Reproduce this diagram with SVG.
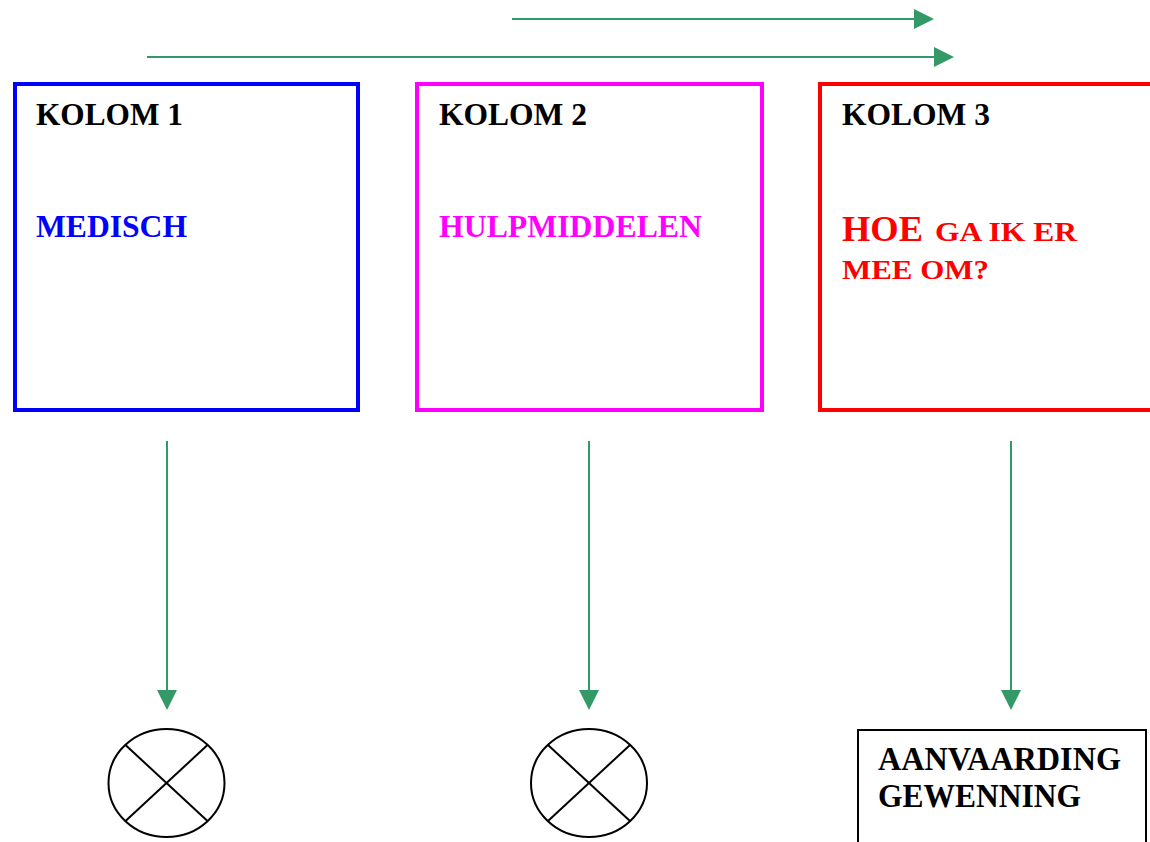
<svg xmlns="http://www.w3.org/2000/svg" width="1150" height="842" viewBox="0 0 1150 842">
<style>
.t{font-family:"Liberation Serif","Times New Roman",serif;font-weight:bold}
.k{font-size:32px;fill:#000}
.c{stroke:#339966;stroke-width:2;fill:none}
.box{fill:#fff;stroke-width:4}
.sym{fill:#fff;stroke:#000;stroke-width:2}
</style>
<defs>
<marker id="ah" markerUnits="userSpaceOnUse" markerWidth="20" markerHeight="20" refX="0" refY="10" orient="auto">
<path d="M0,0 L20,10 L0,20 z" fill="#339966"/>
</marker>
</defs>
<g id="connectors">
<line class="c" x1="512" y1="19" x2="914" y2="19" marker-end="url(#ah)"/>
<line class="c" x1="147" y1="57" x2="934" y2="57" marker-end="url(#ah)"/>
<line class="c" x1="167" y1="441" x2="167" y2="690" marker-end="url(#ah)"/>
<line class="c" x1="589" y1="441" x2="589" y2="690" marker-end="url(#ah)"/>
<line class="c" x1="1011" y1="441" x2="1011" y2="690" marker-end="url(#ah)"/>
</g>
<g id="kolom1">
<rect class="box" x="15" y="84" width="343" height="326" stroke="#0000ff"/>
<text class="t k" x="36" y="125" textLength="147" lengthAdjust="spacingAndGlyphs">KOLOM 1</text>
<text class="t" x="36" y="237" font-size="31" fill="#0000ff" textLength="151" lengthAdjust="spacingAndGlyphs">MEDISCH</text>
</g>
<g id="kolom2">
<rect class="box" x="417" y="84" width="345" height="326" stroke="#ff00ff"/>
<text class="t k" x="439" y="125" textLength="148" lengthAdjust="spacingAndGlyphs">KOLOM 2</text>
<text class="t" x="439" y="237" font-size="31" fill="#ff00ff" textLength="263" lengthAdjust="spacingAndGlyphs">HULPMIDDELEN</text>
</g>
<g id="kolom3">
<rect class="box" x="820" y="84" width="340" height="326" stroke="#ff0000"/>
<text class="t k" x="842" y="125" textLength="148" lengthAdjust="spacingAndGlyphs">KOLOM 3</text>
<text class="t" x="842" y="241" font-size="36" fill="#ff0000" textLength="81" lengthAdjust="spacingAndGlyphs">HOE</text>
<text class="t" x="935" y="241" font-size="27" fill="#ff0000" textLength="142" lengthAdjust="spacingAndGlyphs">GA IK ER</text>
<text class="t" x="842" y="279" font-size="28" fill="#ff0000" textLength="147" lengthAdjust="spacingAndGlyphs">MEE OM?</text>
</g>
<g id="stop1">
<ellipse class="sym" cx="166.5" cy="783" rx="58" ry="54"/>
<line x1="125.5" y1="745" x2="207.5" y2="821" stroke="#000" stroke-width="2"/>
<line x1="207.5" y1="745" x2="125.5" y2="821" stroke="#000" stroke-width="2"/>
</g>
<g id="stop2">
<ellipse class="sym" cx="589" cy="783" rx="58" ry="54"/>
<line x1="548" y1="745" x2="630" y2="821" stroke="#000" stroke-width="2"/>
<line x1="630" y1="745" x2="548" y2="821" stroke="#000" stroke-width="2"/>
</g>
<g id="aanvaarding">
<rect x="858" y="730" width="288" height="130" fill="#fff" stroke="#000" stroke-width="2"/>
<text class="t" x="878" y="770" font-size="33" textLength="243" lengthAdjust="spacingAndGlyphs">AANVAARDING</text>
<text class="t" x="878" y="807" font-size="33" textLength="203" lengthAdjust="spacingAndGlyphs">GEWENNING</text>
</g>
</svg>
